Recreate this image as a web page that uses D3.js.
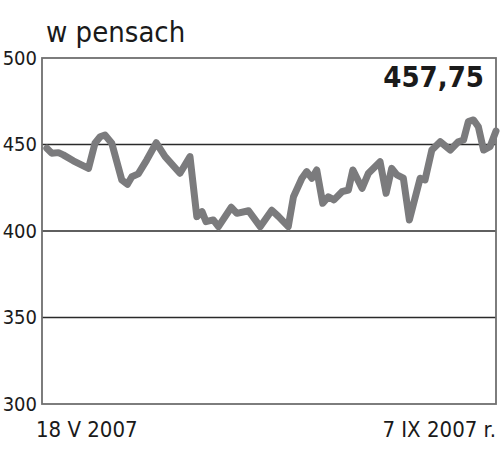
<!DOCTYPE html>
<html>
<head>
<meta charset="utf-8">
<script src="https://cdn.jsdelivr.net/npm/d3@7"></script>
<style>
  body { margin: 0; background: #fff; }
  text { font-family: "DejaVu Sans Condensed", "Liberation Sans Narrow", sans-serif; fill: #1a1a1a; }
</style>
</head>
<body>
<svg></svg>
<script>
// dimensions
var svgWidth = 500;
var svgHeight = 454;

var margin = { top: 58, right: 4, bottom: 50, left: 42 };
var chartWidth = svgWidth - margin.left - margin.right;
var chartHeight = svgHeight - margin.top - margin.bottom;

// data: days since 18 V 2007 and price in pence
var days = [0, 1.2, 2.9, 4.1, 6.6, 10.4, 12, 13.3, 14.5, 16.2, 18.7, 20.1, 21.2, 22.8, 24.9,
  27.3, 29.5, 33.2, 35.7, 37.4, 38.7, 39.7, 41.5, 42.8, 46, 47.4, 50.3, 53.2, 56.1, 57.8,
  60.2, 61.5, 63.6, 64.8, 66.1, 67.3, 68.8, 70.2, 71.6, 73.6, 75.2, 76.3, 78.6, 80.2, 83.1,
  84.6, 86, 87.3, 88.9, 90.4, 93.1, 94.3, 96, 98.1, 100.6, 102.6, 103.9, 105.1, 106.4,
  107.6, 108.9, 110.5, 112];
var prices = [447.8, 445, 445.3, 444, 440.6, 436.2, 450.7, 454.5, 455.5, 450.7, 429.5, 427,
  431.4, 433, 441, 451, 443, 433.4, 443, 408.3, 411.2, 405.4, 406.4, 402.5, 413.7, 410.2,
  411.7, 402.5, 412, 408.3, 402.5, 419.8, 430.5, 434.3, 430.5, 435.3, 416, 419.8, 418,
  422.7, 423.7, 435.3, 424.7, 433.4, 440, 421.8, 436.2, 432.4, 430.5, 406.4, 430.5, 429.5,
  446.8, 451.6, 446.8, 451.6, 452.6, 463.2, 464.2, 460.3, 446.8, 448.7, 457.75];
var yTicks = [300, 350, 400, 450, 500];
var dateLabels = ["18 V 2007", "7 IX 2007 r."];
var title = "w pensach";
var lastValue = "457,75";

var data = days.map((d, i) => ({ day: d, price: prices[i] }));

var svg = d3.select("svg")
  .attr("width", svgWidth)
  .attr("height", svgHeight);

var chartGroup = svg.append("g")
  .attr("transform", `translate(${margin.left}, ${margin.top})`);

var xScale = d3.scaleLinear()
  .domain([-1.2, 112])
  .range([0, chartWidth]);

var yScale = d3.scaleLinear()
  .domain([300, 500])
  .range([chartHeight, 0]);

// inner gridlines
chartGroup.selectAll(".grid")
  .data([350, 400, 450])
  .enter()
  .append("line")
  .attr("x1", 0)
  .attr("x2", chartWidth)
  .attr("y1", d => yScale(d))
  .attr("y2", d => yScale(d))
  .attr("stroke", "#2a2a2a")
  .attr("stroke-width", 1.4);

// frame
chartGroup.append("rect")
  .attr("x", 0)
  .attr("y", 0)
  .attr("width", chartWidth)
  .attr("height", chartHeight)
  .attr("fill", "none")
  .attr("stroke", "#6f6f6f")
  .attr("stroke-width", 1.8);

// y labels
var leftAxis = d3.axisLeft(yScale).tickValues(yTicks).tickSize(0).tickPadding(5);
var yAxisG = chartGroup.append("g").call(leftAxis);
yAxisG.select(".domain").remove();
yAxisG.selectAll("text")
  .attr("font-size", 20)
  .attr("fill", "#1a1a1a")
  .style("font-family", "'DejaVu Sans Condensed', sans-serif");

// price line
var drawLine = d3.line()
  .x(d => xScale(d.day))
  .y(d => yScale(d.price));

chartGroup.append("path")
  .attr("d", drawLine(data))
  .attr("fill", "none")
  .attr("stroke", "#7b7b7d")
  .attr("stroke-width", 7)
  .attr("stroke-linejoin", "round")
  .attr("stroke-linecap", "round");

// date labels
chartGroup.append("text")
  .attr("x", -6)
  .attr("y", chartHeight + 33)
  .attr("font-size", 22)
  .text(dateLabels[0]);

chartGroup.append("text")
  .attr("x", chartWidth)
  .attr("y", chartHeight + 33)
  .attr("text-anchor", "end")
  .attr("font-size", 22)
  .text(dateLabels[1]);

// title and last value
svg.append("text")
  .attr("x", 46)
  .attr("y", 42)
  .attr("font-size", 29)
  .text(title);

svg.append("text")
  .attr("x", 484)
  .attr("y", 87)
  .attr("text-anchor", "end")
  .attr("font-size", 29)
  .attr("font-weight", "bold")
  .text(lastValue);
</script>
</body>
</html>
